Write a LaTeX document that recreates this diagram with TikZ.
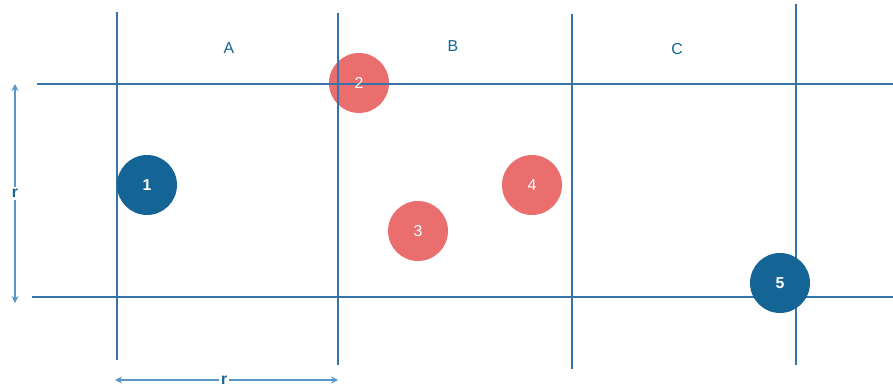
\documentclass[tikz,border=0pt]{standalone}
\usepackage{fontspec}
\setmainfont{Liberation Sans}
\usetikzlibrary{arrows.meta,positioning}
\definecolor{gridBlue}{RGB}{55,115,170}
\definecolor{dimBlue}{RGB}{90,150,200}
\definecolor{cellBlue}{RGB}{20,100,150}
\definecolor{cellRed}{RGB}{235,110,110}

\begin{document}
\begin{tikzpicture}[x=0.02cm,y=-0.02cm,
    grid/.style={draw=gridBlue,line width=1.3pt},
    ball/.style={circle,inner sep=0pt,minimum size=1.2cm,
                 font=\small\bfseries,text=white},
    blue ball/.style={ball,fill=cellBlue},
    red ball/.style={ball,fill=cellRed,font=\small},
    lbl/.style={font=\small,text=cellBlue},
    dim/.style={draw=dimBlue,line width=0.8pt,{Stealth[length=4pt,width=4pt]}-{Stealth[length=4pt,width=4pt]}}]

    \useasboundingbox (0,0) rectangle (893,392);

    % particle on the corner, under the lines
    \node[red ball]  (c2) at (359,83)  {};

    % grid lines
    \foreach \x/\ya/\yb in {117/12/360,338/13/365,572/14/369,796/4/365} {
      \draw[grid] (\x,\ya) -- (\x,\yb);
    }
    \draw[grid] (37,84) -- (893,84);
    \draw[grid] (32,297) -- (893,297);

    % cell labels
    \node[lbl] (la) at (229,48) {A};
    \node[lbl] (lb) at (453,46) {B};
    \node[lbl] (lc) at (677,49) {C};

    % particles
    \node[text=white,font=\small] (n2) at (c2) {2};
    \node[blue ball] (c1) at (147,185) {1};
    \node[red ball]  (c3) at (418,231) {3};
    \node[red ball]  (c4) at (532,185) {4};
    \node[blue ball] (c5) at (780,283) {5};

    % radius marks
    \coordinate (vt) at (15,84);
    \coordinate (vb) at (15,303);
    \coordinate (hl) at (115,380);
    \coordinate (hr) at (338,380);
    \draw[dim] (vt) -- (vb)
      node[midway,fill=white,inner sep=1pt,lbl,font=\small\bfseries] (rv) {r};
    \draw[dim] (hl) -- (hr)
      node[pos=0.49,fill=white,inner sep=1pt,lbl,font=\small\bfseries] (rh) {r};
  \end{tikzpicture}
\end{document}
